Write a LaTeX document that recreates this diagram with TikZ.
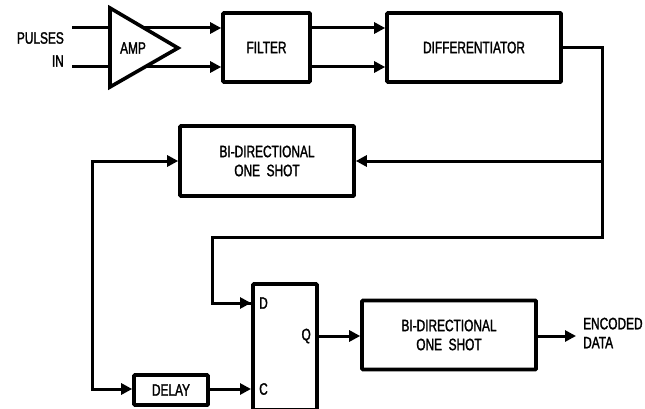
\documentclass[tikz,border=0pt]{standalone}
\usepackage{fontspec}
\setmainfont{Liberation Sans}[FakeStretch=0.72,FakeBold=1.6]
\usetikzlibrary{arrows.meta,calc}
\begin{document}
\begin{tikzpicture}[x=1pt,y=-1pt,
  blk/.style={draw,line width=3.6pt,rounded corners=0.8pt,inner sep=0pt,outer sep=1.8pt,align=center,font=\lbl},
  wire/.style={line width=3pt},
  arr/.style={wire,-{Triangle[length=11pt,width=11pt]}},
  arrb/.style={wire,{Triangle[length=11pt,width=11pt]}-{Triangle[length=11pt,width=11pt]}},
  txt/.style={inner sep=0pt,font=\lbl,align=center}]
\newcommand{\lbl}{\fontsize{16.5}{19}\selectfont}
\useasboundingbox (0,0) rectangle (645,409);
% boxes
\node[blk,minimum width=87pt,minimum height=69pt] (filter) at (266.5,47.5) {FILTER};
\node[blk,minimum width=174pt,minimum height=69pt] (diff) at (474,47.5) {DIFFERENTIATOR};
\node[blk,minimum width=174pt,minimum height=70pt] (os1) at (267,161) {BI-DIRECTIONAL\\ONE\hspace{0.4em}SHOT};
\node[blk,minimum width=174pt,minimum height=69pt] (os2) at (449,335) {BI-DIRECTIONAL\\ONE\hspace{0.4em}SHOT};
\node[blk,minimum width=74pt,minimum height=30pt] (delay) at (171,390) {DELAY};
\node[blk,minimum width=64pt,minimum height=126pt] (ff) at (285,347) {};
% labels
\node[txt,anchor=east] (pl) at (64,38) {PULSES};
\node[txt,anchor=east] (inl) at (64,61) {IN};
\node[txt,anchor=west] (dl) at (259,303) {D};
\node[txt,anchor=east] (ql) at (311,336) {Q};
\node[txt,anchor=west] (cl) at (259,389) {C};
\node[txt,anchor=west,align=left] (enc) at (583,333) {ENCODED\\DATA};
% coordinates
\coordinate (in1) at (72,28);
\coordinate (in2) at (72,67);
\coordinate (dIn) at (251,303);
\coordinate (cIn) at (251,389);
\coordinate (qOut) at (319,336);
\coordinate (rt) at (602,47.5);
\coordinate (rtA) at (602,161);
\coordinate (rtB) at (602,237);
\coordinate (lt) at (212,237);
\coordinate (lp) at (92,389);
\coordinate (encIn) at (576,336);
% wires
\draw[arr] (in1) -- (filter.west |- in1);
\draw[arr] (in2) -- (filter.west |- in2);
\draw[arr] (filter.east |- in1) -- (diff.west |- in1);
\draw[arr] (filter.east |- in2) -- (diff.west |- in2);
\draw[wire] (diff.east) -- (rt) -- (rtB) -- (lt) |- (dIn);
\draw[arr] (lt) |- (dIn);
\draw[arr] (rtA) -- (os1.east);
\draw[arrb] (os1.west) -| (lp) -- (delay.west |- lp);
\draw[arr] (delay.east |- cIn) -- (cIn);
\draw[arr] (qOut) -- (os2.west |- qOut);
\draw[arr] (os2.east |- qOut) -- (encIn);
% amplifier
\draw[line width=3.6pt,fill=white,line join=miter] (110,8) -- (110,87) -- (178,48) -- cycle;
\node[txt] (amp) at (133,48) {AMP};
\end{tikzpicture}
\end{document}
